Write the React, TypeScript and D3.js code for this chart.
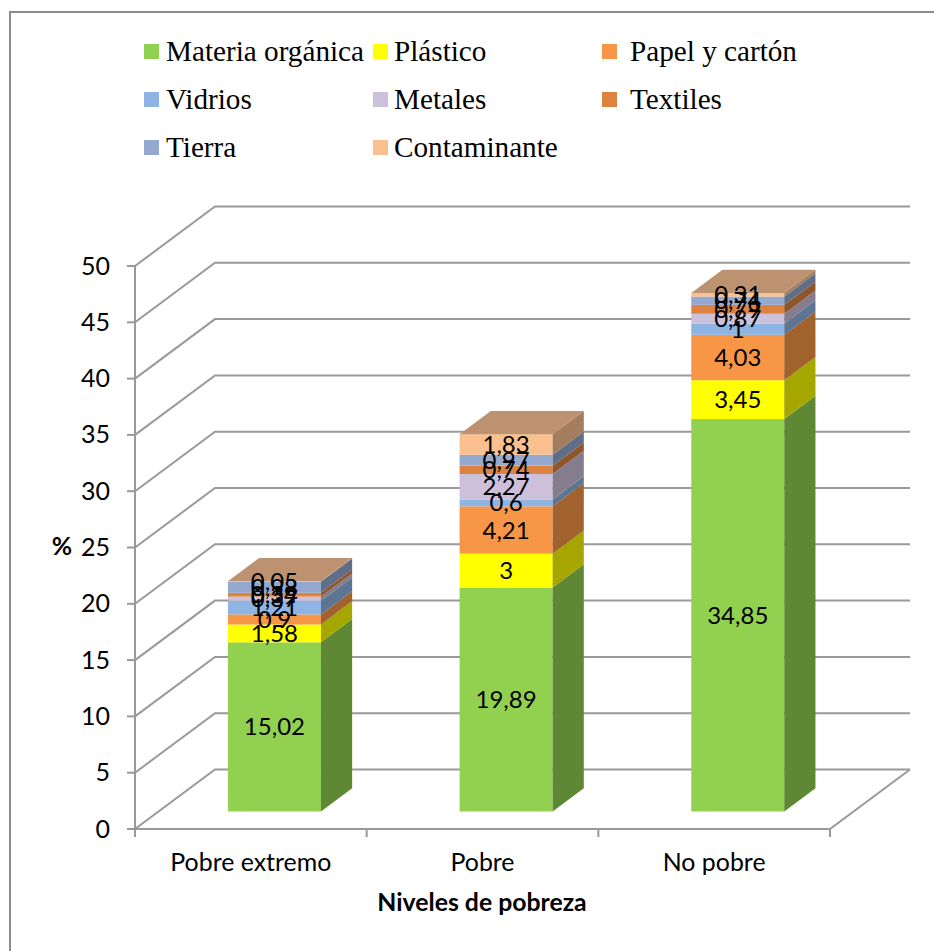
import React from 'react';
import * as d3 from 'd3';

const categories = ['Pobre extremo', 'Pobre', 'No pobre'];
const seriesNames = ['Materia orgánica', 'Plástico', 'Papel y cartón', 'Vidrios', 'Metales', 'Textiles', 'Tierra', 'Contaminante'];
const seriesColors = ['#92D050', '#FFFF00', '#F79646', '#8DB4E2', '#CCC0DA', '#DC843F', '#95A8CF', '#FAC090'];
const materia = [15.02, 19.89, 34.85];
const plastico = [1.58, 3, 3.45];
const papel = [0.9, 4.21, 4.03];
const vidrios = [1.21, 0.6, 1];
const metales = [0.37, 2.27, 0.87];
const textiles = [0.34, 0.74, 0.79];
const tierra = [0.98, 0.97, 0.74];
const contaminante = [0.05, 1.83, 0.31];
const yTicks = [0, 5, 10, 15, 20, 25, 30, 35, 40, 45, 50];
const legendSwatchX = [144, 373, 602];
const legendTextX = [166, 394, 630];
const legendRows = [52, 100, 148];

const allSeries = [materia, plastico, papel, vidrios, metales, textiles, tierra, contaminante];
const rows = categories.map((c, i) => {
  const row: Record<string, any> = { cat: c };
  seriesNames.forEach((s, j) => (row[s] = allSeries[j][i]));
  return row;
});
const stacked = d3.stack().keys(seriesNames)(rows as any);

const W = 934;
const H = 951;
const y = d3.scaleLinear().domain([0, 50]).range([829, 266]);
const x = d3.scaleBand().domain(categories).range([135, 830]);
// 3d depth of the wall
const DX = 80;
const DY = -59.5;
const barFront = 0.295;
const barBack = 0.685;
const barW = 93;
const gridColor = '#999999';
const labelFont = 'Lato';
const fmt = (v: number) => String(v).replace('.', ',');

const poly = d3.line<[number, number]>();

export default function App() {
  const x0 = x.range()[0];
  const x1 = x.range()[1];
  const fx = DX * barFront;
  const fy = DY * barFront;
  const sx = DX * (barBack - barFront);
  const sy = DY * (barBack - barFront);
  return (
    <svg width={W} height={H} style={{ position: 'absolute', left: 0, top: 0, background: '#fff' }}>
      <rect x={10} y={12} width={960} height={1000} fill="#fff" stroke="#8c8c8c" strokeWidth={2} />

      {yTicks.map(t => (
        <path key={t} d={poly([[x0, y(t)], [x0 + DX, y(t) + DY], [x1 + DX, y(t) + DY]]) || ''} fill="none" stroke={gridColor} strokeWidth={2} />
      ))}
      <path d={poly([[x0, y(0)], [x1, y(0)], [x1 + DX, y(0) + DY]]) || ''} fill="none" stroke={gridColor} strokeWidth={2} />
      <line x1={x0} x2={x0} y1={y(50)} y2={y(0) + 8} stroke={gridColor} strokeWidth={2} />
      {yTicks.map(t => (
        <g key={t}>
          <line x1={x0 - 8} x2={x0} y1={y(t)} y2={y(t)} stroke={gridColor} strokeWidth={2} />
          <text x={110} y={y(t) + 8.5} textAnchor="end" fontFamily={labelFont} fontSize={25} fill="#000">{t}</text>
        </g>
      ))}
      {categories.map(c => (
        <line key={c} x1={(x(c) as number) + x.bandwidth()} x2={(x(c) as number) + x.bandwidth()} y1={y(0)} y2={y(0) + 8} stroke={gridColor} strokeWidth={2} />
      ))}

      {categories.map((c, i) => {
        const left = (x(c) as number) + x.bandwidth() / 2 - barW / 2 + fx;
        const topY = y(stacked[7][i][1]) + fy;
        return (
          <g key={c}>
            {stacked.map((s, j) => {
              const bot = y(s[i][0]) + fy;
              const top = y(s[i][1]) + fy;
              const col = seriesColors[j];
              const side = d3.rgb(col).darker(1.2).formatHex();
              return (
                <g key={j}>
                  <rect x={left} y={top} width={barW} height={bot - top} fill={col} />
                  <path d={(poly([[left + barW, bot], [left + barW + sx, bot + sy], [left + barW + sx, top + sy], [left + barW, top]]) || '') + 'Z'} fill={side} />
                </g>
              );
            })}
            <path
              d={(poly([
                [left, topY],
                [left + sx, topY + sy],
                [left + barW + sx, topY + sy],
                [left + barW, topY],
              ]) || '') + 'Z'}
              fill="#BC9270"
            />
          </g>
        );
      })}

      {categories.map((c, i) => {
        const cx = (x(c) as number) + x.bandwidth() / 2 + fx;
        return stacked.map((s, j) => (
          <text key={c + j} x={cx} y={(y(s[i][0]) + y(s[i][1])) / 2 + fy + 8.5} textAnchor="middle" fontFamily={labelFont} fontSize={24} fill="#000">
            {fmt(allSeries[j][i])}
          </text>
        ));
      })}

      {categories.map(c => (
        <text key={c} x={(x(c) as number) + x.bandwidth() / 2} y={871} textAnchor="middle" fontFamily={labelFont} fontSize={24.9} fill="#000">{c}</text>
      ))}
      <text x={482} y={911} textAnchor="middle" fontFamily={labelFont} fontWeight="bold" fontSize={24.8} fill="#000">Niveles de pobreza</text>
      <text x={62} y={555} textAnchor="middle" fontFamily={labelFont} fontWeight="bold" fontSize={24.8} fill="#000">%</text>

      {seriesNames.map((s, j) => {
        const ly = legendRows[Math.floor(j / 3)];
        return (
          <g key={s}>
            <rect x={legendSwatchX[j % 3]} y={ly - 8} width={15} height={15} fill={seriesColors[j]} />
            <text x={legendTextX[j % 3]} y={ly + 9} fontFamily="Liberation Serif" fontSize={29.2} fill="#000">{s}</text>
          </g>
        );
      })}
    </svg>
  );
}
